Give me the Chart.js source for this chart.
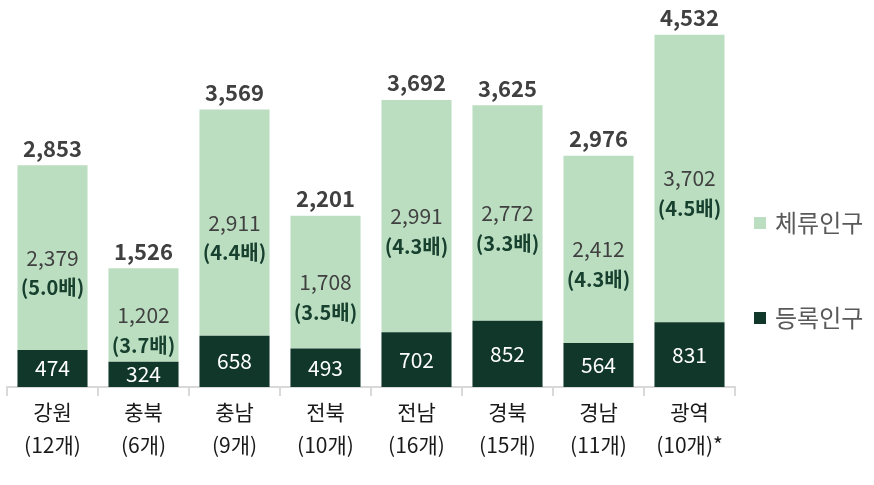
<!DOCTYPE html>
<html><head><meta charset="utf-8">
<script src="https://cdn.jsdelivr.net/npm/chart.js@4"></script>
<style>html,body{margin:0;padding:0;background:#fff}#wrap{width:874px;height:485px;position:relative}</style>
</head><body><div id="wrap"><canvas id="c"></canvas></div>
<script>
const categories = [['강원','(12개)'],['충북','(6개)'],['충남','(9개)'],['전북','(10개)'],['전남','(16개)'],['경북','(15개)'],['경남','(11개)'],['광역','(10개)*']];
const registered = [474,324,658,493,702,852,564,831];
const staying = [2379,1202,2911,1708,2991,2772,2412,3702];
const totals = [2853,1526,3569,2201,3692,3625,2976,4532];
const ratios = ['5.0','3.7','4.4','3.5','4.3','3.3','4.3','4.5'];
const seriesNames = ['등록인구','체류인구'];
const colors = ['#10372a','#bbdec1'];
const FONT = "'Noto Sans CJK KR', 'Noto Sans', sans-serif";

const fmt = v => v.toLocaleString('en-US');

const labelPlugin = {
  id: 'labels',
  afterDatasetsDraw(chart) {
    const ctx = chart.ctx;
    const m0 = chart.getDatasetMeta(0), m1 = chart.getDatasetMeta(1);
    ctx.save();
    ctx.textAlign = 'center';
    ctx.textBaseline = 'middle';
    m0.data.forEach((bar, i) => {
      ctx.font = "21px " + FONT;
      ctx.fillStyle = '#ffffff';
      ctx.fillText(fmt(registered[i]), bar.x, (bar.y + bar.base) / 2);
    });
    m1.data.forEach((bar, i) => {
      const mid = (bar.y + bar.base) / 2;
      ctx.font = "21px " + FONT;
      ctx.fillStyle = '#404040';
      ctx.fillText(fmt(staying[i]), bar.x, mid);
      ctx.font = "bold 20px " + FONT;
      ctx.fillStyle = '#17402f';
      ctx.fillText('(' + ratios[i] + '배)', bar.x, mid + 30);
      ctx.font = "bold 22px " + FONT;
      ctx.fillStyle = '#404040';
      ctx.fillText(fmt(totals[i]), bar.x, bar.y - 17);
    });
    // legend
    const lx = chart.chartArea.right + 19;
    const items = [{name: seriesNames[1], c: colors[1], y: 223}, {name: seriesNames[0], c: colors[0], y: 318}];
    ctx.textAlign = 'left';
    items.forEach(it => {
      ctx.fillStyle = it.c;
      ctx.fillRect(lx, it.y - 6, 12, 12);
      ctx.font = "24px " + FONT;
      ctx.fillStyle = '#595959';
      ctx.fillText(it.name, lx + 21, it.y);
    });
    ctx.restore();
  }
};

new Chart(document.getElementById('c'), {
  type: 'bar',
  data: {
    labels: categories,
    datasets: [
      {label: seriesNames[0], data: registered, backgroundColor: colors[0], barPercentage: 0.77, categoryPercentage: 1},
      {label: seriesNames[1], data: staying, backgroundColor: colors[1], barPercentage: 0.77, categoryPercentage: 1}
    ]
  },
  options: {
    responsive: true,
    maintainAspectRatio: false,
    animation: false,
    layout: {padding: {left: 7, right: 139, top: 10, bottom: 24}},
    plugins: {legend: {display: false}, tooltip: {enabled: false}},
    scales: {
      x: {
        stacked: true,
        grid: {display: true, drawOnChartArea: false, drawTicks: true, tickLength: 9, color: '#d9d9d9', lineWidth: 2, offset: true},
        border: {display: true, color: '#d9d9d9', width: 2},
        ticks: {color: '#1a1a1a', font: {family: FONT, size: 21, lineHeight: 1.55}, padding: 0, maxRotation: 0, autoSkip: false}
      },
      y: {stacked: true, display: false, min: 0, max: 4850}
    }
  },
  plugins: [labelPlugin]
});
</script>
</body></html>
